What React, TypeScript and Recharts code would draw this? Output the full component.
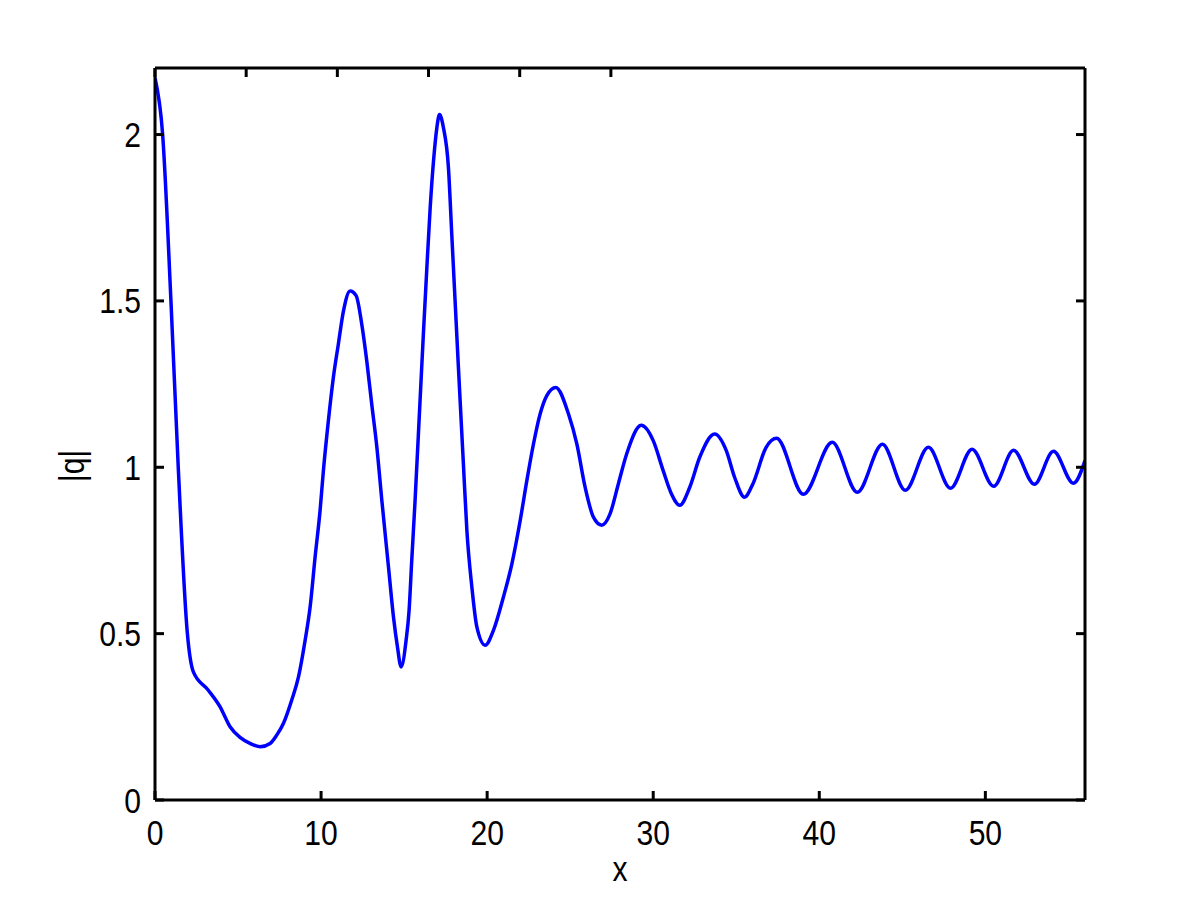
import React from 'react';
import { LineChart, Line, XAxis, YAxis } from 'recharts';

// x positions
const xValues = [
  0, 0.46, 0.96, 1.4, 1.95, 2.31, 3.21, 3.92, 4.52, 5.12, 5.72, 6.33, 6.93, 7.33, 7.73,
  8.23, 8.64, 9.04, 9.34, 9.64, 9.94, 10.14, 10.44, 10.74, 11.04, 11.35, 11.75, 12.11,
  12.45, 12.75, 13.05, 13.36, 13.66, 14.06, 14.36, 14.6, 14.82, 15.12, 15.3, 15.46, 15.66,
  15.96, 16.16, 16.37, 16.57, 16.77, 16.97, 17.13, 17.37, 17.67, 17.87, 18.07, 18.27,
  18.57, 18.78, 19.08, 19.38, 19.88, 20.38, 20.98, 21.49, 21.99, 22.39, 22.79, 23.19, 23.6,
  24.13, 24.9, 25.4, 25.9, 26.4, 26.9, 27.4, 27.9, 28.4, 29.28, 30.0, 30.6, 31.1, 31.6,
  32.2, 32.8, 33.7, 34.4, 34.9, 35.5, 36.0, 36.8, 37.43, 39.04, 40.78, 42.29, 43.8, 45.18,
  46.57, 47.9, 49.2, 50.5, 51.7, 52.95, 54.1, 55.3, 56.0,
];

// |q| values
const qValues = [
  2.17, 2.0, 1.5, 1.0, 0.5, 0.385, 0.33, 0.28, 0.22, 0.188, 0.17, 0.16, 0.17, 0.195, 0.23,
  0.3, 0.37, 0.48, 0.58, 0.73, 0.87, 0.99, 1.14, 1.27, 1.37, 1.47, 1.53, 1.516,
  1.43, 1.32, 1.19, 1.06, 0.9, 0.7, 0.55, 0.46, 0.4, 0.48, 0.57, 0.72, 0.9,
  1.2, 1.4, 1.6, 1.78, 1.92, 2.02, 2.06, 2.02, 1.9, 1.7, 1.5, 1.3,
  1.01, 0.81, 0.64, 0.52, 0.465, 0.51, 0.61, 0.71, 0.84, 0.96, 1.07, 1.16, 1.216,
  1.24, 1.16, 1.07, 0.94, 0.85, 0.826, 0.86, 0.95, 1.04, 1.126, 1.08, 0.99, 0.92, 0.886,
  0.94, 1.03, 1.1, 1.05, 0.97, 0.91, 0.95, 1.06, 1.087, 0.919, 1.075, 0.925, 1.069, 0.931,
  1.06, 0.937, 1.054, 0.943, 1.051, 0.949, 1.048, 0.952, 1.02,
];

const xTicks = [0, 10, 20, 30, 40, 50];
const xTickLabels = ['0', '10', '20', '30', '40', '50'];
const yTicks = [0, 0.5, 1, 1.5, 2];
const yTickLabels = ['0', '0.5', '1', '1.5', '2'];
const xDomain = [0, 56];
const yDomain = [0, 2.2];
const xLabel = 'x';
const yLabel = '|q|';

const data = xValues.map((x, i) => ({ x, q: qValues[i] }));

const FONT = '"Liberation Sans", Arial, Helvetica, sans-serif';
const FS = 35;
const SX = 0.86;
const TL = 9;

const Label = (p: { x: number; y: number; anchor: string; text: string; rotate?: number }) => (
  <text
    x={0}
    y={0}
    transform={`translate(${p.x},${p.y})${p.rotate ? ` rotate(${p.rotate})` : ''} scale(${SX},1)`}
    textAnchor={p.anchor as any}
    fontSize={FS}
    fontFamily={FONT}
    fill="#000"
  >
    {p.text}
  </text>
);

const BottomTick = (props: any) => {
  const { x, y, payload } = props;
  const i = xTicks.indexOf(payload.value);
  return (
    <g>
      <line x1={x} y1={y} x2={x} y2={y - TL} stroke="#000" strokeWidth={3} />
      <Label x={x} y={y + 45} anchor="middle" text={xTickLabels[i]} />
    </g>
  );
};

const TopTick = (props: any) => {
  const { x, y } = props;
  return <line x1={x} y1={y} x2={x} y2={y + TL} stroke="#000" strokeWidth={3} />;
};

const LeftTick = (props: any) => {
  const { x, y, payload } = props;
  const i = yTicks.indexOf(payload.value);
  return (
    <g>
      <line x1={x} y1={y} x2={x + TL} y2={y} stroke="#000" strokeWidth={3} />
      <Label x={x - 14} y={y + 12.5} anchor="end" text={yTickLabels[i]} />
    </g>
  );
};

const RightTick = (props: any) => {
  const { x, y } = props;
  return <line x1={x} y1={y} x2={x - TL} y2={y} stroke="#000" strokeWidth={3} />;
};

const axisLine = { stroke: '#000', strokeWidth: 3 };

export default function App() {
  return (
    <div style={{ position: 'absolute', left: 0, top: 0, width: 1200, height: 900, background: '#fff' }}>
      <LineChart width={1200} height={900} data={data} margin={{ top: 0, right: 0, bottom: 0, left: 0 }}>
        <XAxis
          dataKey="x"
          type="number"
          domain={xDomain}
          ticks={xTicks}
          interval={0}
          height={100}
          tickSize={0}
          tickMargin={0}
          axisLine={axisLine}
          tick={BottomTick}
          allowDataOverflow
        />
        <XAxis
          xAxisId="top"
          orientation="top"
          type="number"
          domain={xDomain}
          ticks={xTicks}
          interval={0}
          height={68}
          tickSize={0}
          tickMargin={0}
          axisLine={axisLine}
          tick={TopTick}
          allowDataOverflow
        />
        <YAxis
          type="number"
          domain={yDomain}
          ticks={yTicks}
          interval={0}
          width={155}
          tickSize={0}
          tickMargin={0}
          axisLine={axisLine}
          tick={LeftTick}
          allowDataOverflow
        />
        <YAxis
          yAxisId="right"
          orientation="right"
          type="number"
          domain={yDomain}
          ticks={yTicks}
          interval={0}
          width={115}
          tickSize={0}
          tickMargin={0}
          axisLine={axisLine}
          tick={RightTick}
          allowDataOverflow
        />
        <Line
          type="monotone"
          dataKey="q"
          stroke="#0000FF"
          strokeWidth={3.5}
          dot={false}
          activeDot={false}
          isAnimationActive={false}
        />
      </LineChart>
      <svg
        width={1200}
        height={900}
        style={{ position: 'absolute', left: 0, top: 0, pointerEvents: 'none' }}
      >
        <Label x={620} y={881} anchor="middle" text={xLabel} />
        <Label x={84} y={466} anchor="middle" text={yLabel} rotate={-90} />
      </svg>
    </div>
  );
}
